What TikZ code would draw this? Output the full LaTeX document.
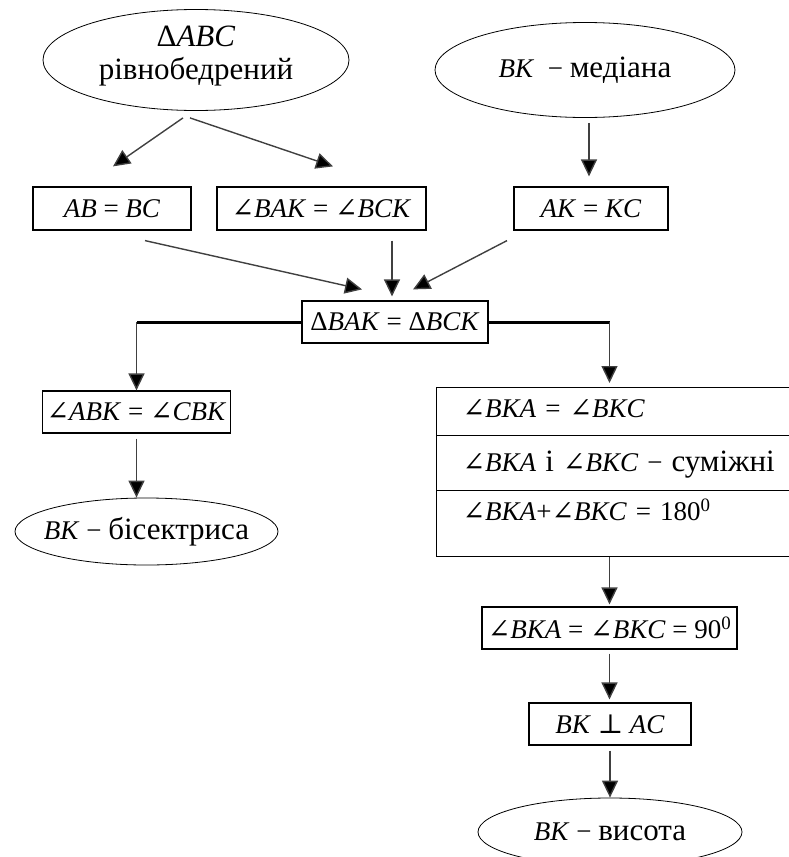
\documentclass[tikz,border=0pt]{standalone}
\usepackage{fontspec}
\setmainfont{Liberation Serif}
\newfontfamily\symfont{DejaVu Serif}
\usetikzlibrary{arrows.meta,shapes.geometric}
\newcommand{\ang}{{\symfont\itshape ∠}}
\newcommand{\perpsym}{{\symfont ⊥}}
\newcommand{\txt}[1]{{\fontsize{31}{34}\selectfont #1}}
\newcommand{\inoval}[1]{\makebox[0pt]{#1}}

\begin{document}
\begin{tikzpicture}[x=1pt,y=-1pt,font=\fontsize{27}{34}\selectfont,
  oval/.style={draw,ellipse,inner sep=0pt,line width=0.8pt},
  box/.style={draw,rectangle,inner sep=0pt,line width=1.2pt,minimum height=43pt},
  row/.style={draw,rectangle,anchor=north west,line width=1.2pt,minimum width=370pt,text width=335pt,inner xsep=26pt,inner ysep=6pt,align=left},
  arr/.style={draw=black!75,line width=1.4pt,-{Triangle[length=17pt,width=16pt,fill=black]}},
  link/.style={line width=3pt}]
\useasboundingbox (0,0) rectangle (789,857);
\clip (0,0) rectangle (789,857);
\node[oval,minimum width=306pt,minimum height=101pt] (isos) at (196,60) {\inoval{\raisebox{4pt}[\height][\depth]{\begin{tabular}{@{}c@{}}\txt{Δ\textit{ABC}}\\[-1pt]\txt{рівнобедрений}\end{tabular}}}};
\node[oval,minimum width=300pt,minimum height=95pt] (med) at (585,70) {\inoval{\textit{BK}\ \ − \txt{медіана}}};
\node[box,minimum width=158pt] (ab) at (112,208.5) {\textit{AB} = \textit{BC}};
\node[box,minimum width=209pt] (angs) at (321.5,208.5) {\ang\textit{BAK} = \ang\textit{BCK}};
\node[box,minimum width=154pt] (ak) at (591,208.5) {\textit{AK} = \textit{KC}};
\node[box,minimum width=186pt,minimum height=42pt] (tri) at (395,322) {Δ\textit{BAK} = Δ\textit{BCK}};
\node[box,minimum width=188pt,minimum height=42pt] (bis) at (136.5,412) {\ang\textit{ABK} = \ang\textit{CBK}};
\node[oval,minimum width=263pt,minimum height=67pt] (bisect) at (146.5,531.5) {\inoval{\textit{BK} − \txt{бісектриса}}};
\node[row,text height=24pt,text depth=12pt] (r1) at (436,387) {\ang\textit{BKA} = \ang\textit{BKC}};
\node[row,text height=30pt,text depth=13pt] (r2) at (436,435) {\ang\textit{BKA} \txt{і} \ang\textit{BKC} − \txt{суміжні}};
\node[row,text height=24pt,text depth=30pt] (r3) at (436,490) {\ang\textit{BKA}+\ang\textit{BKC} = 180\textsuperscript{0}};
\node[box,minimum width=255pt,minimum height=42pt] (ninety) at (609.5,628) {\ang\textit{BKA} = \ang\textit{BKC} = 90\textsuperscript{0}};
\node[box,minimum width=162pt,minimum height=42pt] (perp) at (610,724) {\textit{BK} \perpsym\ \textit{AC}};
\node[oval,minimum width=264pt,minimum height=68pt] (alt) at (610,832) {\inoval{\textit{BK} − \txt{висота}}};

\draw[arr] ([xshift=-13pt,yshift=-7pt]isos.south) -- ([xshift=1pt,yshift=20pt]ab.north);
\draw[arr] ([xshift=-6pt,yshift=-7pt]isos.south) -- ([xshift=11.5pt,yshift=20pt]angs.north);
\draw[arr] ([xshift=4pt,yshift=-5pt]med.south) -- ([xshift=-2pt,yshift=10pt]ak.north);
\draw[arr] ([xshift=33pt,yshift=-10pt]ab.south) -- ([xshift=-33pt,yshift=11pt]tri.north);
\draw[arr] ([xshift=-3pt,yshift=-10pt]angs.south -| tri.north) -- ([xshift=-3pt,yshift=4pt]tri.north);
\draw[arr] ([xshift=-84pt,yshift=-10pt]ak.south) -- ([xshift=18pt,yshift=11pt]tri.north);

\coordinate (kl) at (tri.west -| bis.north);
\coordinate (kr) at (tri.east -| ninety.north);
\draw[link] (tri.west) -- (kl);
\draw[link] (tri.east) -- (kr);
\draw[arr] (kl) -- (bis.north);
\draw[arr,shorten >=4pt] (kr) -- (kr |- r1.north);
\draw[arr,shorten <=5pt] (bis.south) -- (bis.south |- bisect.north);
\draw[arr,shorten >=2pt] (r3.south -| ninety.north) -- (ninety.north);
\draw[arr,shorten <=4pt,shorten >=3pt] (ninety.south) -- (ninety.south |- perp.north);
\draw[arr,shorten <=5pt] (perp.south) -- (perp.south |- alt.north);
\end{tikzpicture}
\end{document}
